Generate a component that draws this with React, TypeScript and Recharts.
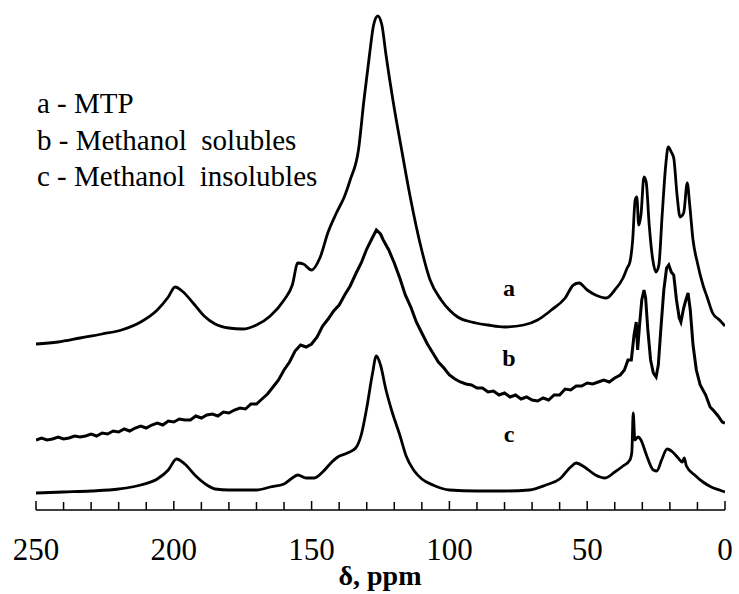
import React from 'react'
import { LineChart, Line, XAxis, YAxis } from 'recharts'

// 13C NMR spectra; intensities are relative to each trace's own baseline
const ppmA = [250, 242, 234, 226, 219, 212, 206, 202, 199.5, 197, 193, 189, 185, 180, 175, 170, 165, 160, 157, 155, 153, 150, 147, 144, 141, 138, 136, 133, 131, 129, 127.5, 126, 124.5, 123, 120.5, 117, 114, 110.5, 107, 103, 100, 97, 92, 86, 80, 73, 68, 63, 58, 55, 53, 50, 47, 43, 40, 37, 35.5, 34.5, 33.5, 32.6, 32, 31.3, 30.5, 29.4, 28.6, 27.5, 26.3, 25, 24, 22.8, 21.5, 20.6, 19.5, 18.6, 17.4, 16.3, 15, 13.7, 12.8, 11.6, 10, 8, 6.5, 4.5, 2, 0]
const intA = [1, 3, 7, 11, 15, 23, 35, 48, 58, 54, 42, 29, 21, 17, 16, 20, 29, 45, 60, 82, 81, 75, 87, 113, 132, 149, 165, 195, 245, 290, 320, 329, 320, 290, 245, 190, 145, 100, 65, 45, 35, 28, 23, 20, 18, 20, 25, 35, 47, 60, 62, 55, 50, 47, 55, 67, 77, 83, 105, 145, 148, 120, 130, 168, 163, 120, 87, 73, 80, 130, 180, 198, 193, 187, 150, 128, 132, 162, 140, 105, 82, 60, 48, 32, 25, 19]

const ppmB = [250, 248, 246, 244, 242, 240, 238, 236, 234, 232, 230, 228, 226, 224, 222, 220, 218, 216, 214, 212, 210, 208, 206, 204, 202, 200, 198, 196, 194, 192, 190, 188, 186, 184, 182, 180, 178, 176, 174, 172, 170, 168, 166, 164, 162, 160, 158, 156, 154, 152, 150, 148, 146, 144, 142, 140, 138, 136, 134, 132, 130, 128, 126.5, 125, 124, 122, 120, 118, 116, 114, 112, 110, 108, 106, 104, 102, 100, 98, 96, 94, 92, 90, 88, 86, 84, 82, 80, 78, 76, 74, 72, 70, 68, 66, 64, 62, 60, 58, 56, 54, 52, 50, 48, 46, 44, 42, 40, 38, 36.5, 35.2, 34, 33, 32.2, 31.7, 31, 30.2, 29.4, 28.8, 28, 27, 26, 25, 24.2, 23.3, 22.2, 21.2, 20.4, 19.5, 18.6, 17.6, 16.6, 16, 15, 14.2, 13.4, 12.6, 11.6, 10.4, 9, 7, 5.4, 4, 2.5, 1, 0]
const intB = [0, 2, 0, 1, 3, 1, 2, 4, 3, 4, 6, 4, 7, 6, 9, 8, 11, 9, 12, 14, 12, 15, 17, 15, 19, 18, 21, 20, 20, 24, 22, 25, 26, 24, 28, 27, 30, 32, 31, 36, 36, 41, 46, 53, 60, 70, 78, 89, 95, 93, 96, 103, 114, 121, 129, 135, 145, 154, 166, 177, 191, 202, 210, 206, 200, 190, 177, 162, 145, 133, 118, 107, 96, 87, 78, 72, 65, 61, 58, 56, 55, 52, 52, 48, 49, 45, 47, 43, 45, 41, 43, 40, 39, 42, 40, 45, 45, 51, 50, 54, 54, 57, 56, 58, 60, 58, 62, 65, 70, 80, 80, 105, 118, 90, 115, 140, 150, 142, 110, 80, 67, 63, 75, 110, 150, 172, 175, 168, 165, 140, 122, 118, 132, 140, 147, 130, 95, 70, 55, 45, 33, 29, 24, 18, 17]

const ppmC = [250, 240, 230, 220, 212, 206, 202, 199, 196, 192, 188, 185, 180, 170, 165, 160, 157, 155, 152, 149, 146, 143, 140.5, 137, 134, 132, 130, 128, 126.5, 125, 123, 121, 118, 115.7, 113, 110, 106, 100, 90, 80, 71, 65, 60, 56, 54, 51, 47, 43.5, 40, 37, 34.5, 33.8, 33.3, 32.7, 31.5, 30.5, 28.5, 26, 24.7, 23, 21, 19, 17, 15.5, 14.8, 14, 11, 8, 5, 2, 0]
const intC = [0, 1, 2, 4, 8, 14, 23, 34, 29, 17, 8, 4, 3, 3, 6, 9, 15, 18, 15, 15, 21, 30, 36, 40, 45, 58, 85, 118, 137, 128, 103, 83, 58, 37, 23, 14, 8, 3, 2, 2, 3, 8, 14, 26, 30, 26, 18, 15, 21, 27, 33, 41, 80, 53, 56, 53, 38, 23, 22, 33, 44, 41, 35, 31, 35, 27, 18, 11, 6, 3, 1]

const minorTicks = [0, 10, 20, 30, 40, 50, 60, 70, 80, 90, 100, 110, 120, 130, 140, 150, 160, 170, 180, 190, 200, 210, 220, 230, 240, 250]
const legendLines = ['a - MTP', 'b - Methanol  solubles', 'c - Methanol  insolubles']
const traceNames = ['a', 'b', 'c']

const W = 739
const H = 594
const FONT = "'Times New Roman', 'Liberation Serif', 'DejaVu Serif', serif"
// vertical stacking of the three spectra
const OFFSETS = [165, 70, 17]

function build(ppm: number[], vals: number[], off: number) {
  return ppm.map((p, i) => ({ ppm: p, v: vals[i] + off }))
}

const dataA = build(ppmA, intA, OFFSETS[0])
const dataB = build(ppmB, intB, OFFSETS[1])
const dataC = build(ppmC, intC, OFFSETS[2])

function Tick(props: any) {
  const { x, y, payload } = props
  const major = payload.value % 50 === 0
  return (
    <g>
      <line x1={x} x2={x} y1={y} y2={y - (major ? 9 : 8)} stroke="#000" strokeWidth={1.5} />
      {major && (
        <text x={x} y={y + 50} textAnchor="middle" style={{ fontFamily: FONT, fontSize: 31 }} fill="#000">
          {payload.value}
        </text>
      )}
    </g>
  )
}

export default function App() {
  return (
    <div style={{ position: 'absolute', left: 0, top: 0, width: W, height: H, background: '#fff' }}>
      <LineChart width={W} height={H} margin={{ top: 8, right: 14, bottom: 24, left: 36 }}>
        <XAxis
          type="number"
          dataKey="ppm"
          domain={[0, 250]}
          reversed
          ticks={minorTicks}
          tick={<Tick />}
          tickLine={false}
          tickSize={0}
          tickMargin={0}
          height={60}
          interval={0}
          axisLine={{ stroke: '#000', strokeWidth: 1.5 }}
          allowDataOverflow
        />
        <YAxis hide type="number" domain={[0, 502]} allowDataOverflow />
        <Line data={dataA} dataKey="v" type="monotone" stroke="#000" strokeWidth={2.8} dot={false} isAnimationActive={false} />
        <Line data={dataB} dataKey="v" type="linear" stroke="#000" strokeWidth={3} dot={false} isAnimationActive={false} />
        <Line data={dataC} dataKey="v" type="monotone" stroke="#000" strokeWidth={2.8} dot={false} isAnimationActive={false} />
      </LineChart>
      <svg width={W} height={H} style={{ position: 'absolute', left: 0, top: 0, pointerEvents: 'none' }}>
        {legendLines.map((t, i) => (
          <text key={t} x={37} y={113 + i * 36.5} fill="#000" style={{ fontFamily: FONT, fontSize: 29, whiteSpace: 'pre' }}>
            {t}
          </text>
        ))}
        {traceNames.map((t, i) => (
          <text key={t} x={509} y={[296, 366, 442][i]} textAnchor="middle" fill="#000" style={{ fontFamily: FONT, fontWeight: 'bold', fontSize: 24 }}>
            {t}
          </text>
        ))}
        <text x={380} y={585} textAnchor="middle" fill="#000" style={{ fontFamily: FONT, fontWeight: 'bold', fontSize: 28 }}>
          δ, ppm
        </text>
      </svg>
    </div>
  )
}
